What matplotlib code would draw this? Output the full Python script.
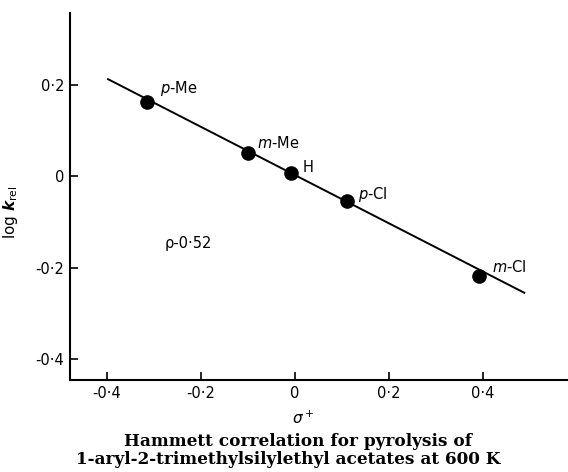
import matplotlib
matplotlib.use("Agg")
import matplotlib.pyplot as plt

# substituents, sigma+ and log k_rel
labels = ["p-Me", "m-Me", "H", "p-Cl", "m-Cl"]
sigma = [-0.314, -0.101, -0.009, 0.110, 0.392]
logk = [0.164, 0.052, 0.008, -0.055, -0.219]
label_offsets = [(13, 13), (9, 10), (12, 5), (11, 7), (13, 9)]

# correlation line end points
fit_x = [-0.398, 0.488]
fit_y = [0.213, -0.255]

xticks = [-0.4, -0.2, 0, 0.2, 0.4]
xticklabels = ["-0·4", "-0·2", "0", "0·2", "0·4"]
yticks = [-0.4, -0.2, 0, 0.2]
yticklabels = ["-0·4", "-0·2", "0", "0·2"]

caption = ["Hammett correlation for pyrolysis of",
           "1-aryl-2-trimethylsilylethyl acetates at 600 K"]


def fancy(name):
    if "-" in name:
        pre, post = name.split("-")
        return r"$\mathit{" + pre + "}$-" + post
    return name


fig = plt.figure(figsize=(5.68, 4.72), dpi=100)
ax = fig.add_axes([0.1232, 0.195, 0.8768, 0.7775])

ax.plot(fit_x, fit_y, color="black", lw=1.4, zorder=2)
ax.plot(sigma, logk, "o", color="black", ms=9.5, zorder=3)

for name, x, y, off in zip(labels, sigma, logk, label_offsets):
    ax.annotate(fancy(name), (x, y), xytext=off, textcoords="offset pixels",
                ha="left", va="center", fontsize=10.5)

ax.text(-0.277, -0.148, "ρ-0·52", ha="left", va="center", fontsize=10.5)

ax.set_xlim(-0.479, 0.581)
ax.set_ylim(-0.446, 0.358)
ax.set_xticks(xticks)
ax.set_xticklabels(xticklabels, fontsize=10.5)
ax.set_yticks(yticks)
ax.set_yticklabels(yticklabels, fontsize=10.5)
ax.tick_params(direction="in", length=6, width=1.2, pad=4)

ax.spines["top"].set_visible(False)
ax.spines["right"].set_visible(False)
ax.spines["left"].set_linewidth(1.5)
ax.spines["bottom"].set_linewidth(1.5)

ax.set_xlabel(r"$\sigma^+$", fontsize=11)
ax.xaxis.set_label_coords(0.468, -0.082)
ax.set_ylabel(r"log $\mathbfit{k}_{\mathrm{rel}}$", fontsize=11)
ax.yaxis.set_label_coords(-0.1, 0.458)

fig.text(0.5255, 0.0545, caption[0], ha="center", va="baseline",
         fontsize=12.2, family="DejaVu Serif", fontweight="bold")
fig.text(0.507, 0.0165, caption[1], ha="center", va="baseline",
         fontsize=12.2, family="DejaVu Serif", fontweight="bold")

fig.savefig("out.png", dpi=100)
